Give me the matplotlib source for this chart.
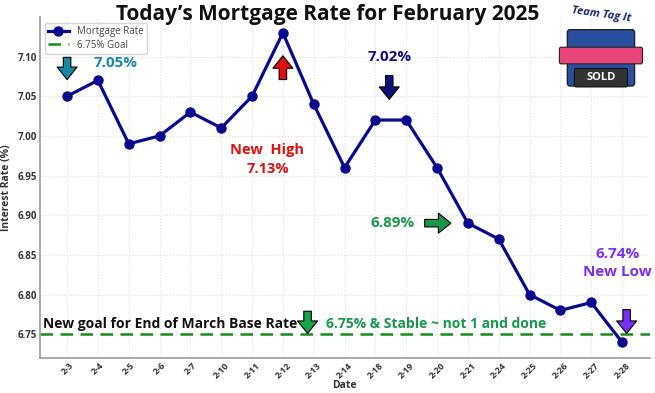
import matplotlib.pyplot as plt
from matplotlib.patches import FancyBboxPatch

# Data
dates = ["2-3", "2-4", "2-5", "2-6", "2-7", "2-10", "2-11", "2-12", "2-13", "2-14",
         "2-18", "2-19", "2-20", "2-21", "2-24", "2-25", "2-26", "2-27", "2-28"]
rates = [7.05, 7.07, 6.99, 7.00, 7.03, 7.01, 7.05, 7.13, 7.04, 6.96,
         7.02, 7.02, 6.96, 6.89, 6.87, 6.80, 6.78, 6.79, 6.74]
goal = 6.75
y_ticks = [6.75, 6.80, 6.85, 6.90, 6.95, 7.00, 7.05, 7.10]

plt.rcParams['font.family'] = ['Open Sans', 'DejaVu Sans']

fig = plt.figure(figsize=(6.55, 3.93), dpi=100)
ax = fig.add_axes([0.061, 0.089, 0.931, 0.868])

x = list(range(len(dates)))
ax.plot(x, rates, color='#0a0a8c', lw=2.3, marker='o', ms=6.5, label='Mortgage Rate', zorder=3)
ax.axhline(goal, color='#1a8a1a', ls='--', lw=1.8, dashes=(5, 3), label='6.75% Goal', zorder=2)

ax.set_xlim(-0.88, 18.9)
ax.set_ylim(6.72, 7.15)
ax.set_xticks(x)
ax.set_xticklabels(dates, rotation=45, fontsize=6.5, fontweight='bold', color='#333333')
ax.set_yticks(y_ticks)
ax.set_yticklabels([f"{v:.2f}" for v in y_ticks], fontsize=7, fontweight='bold', color='#333333')
ax.tick_params(length=0, pad=2)
ax.set_xlabel("Date", fontsize=7.5, fontweight='bold', color='#333333', labelpad=0)
ax.set_ylabel("Interest Rate (%)", fontsize=7.5, fontweight='bold', color='#333333', labelpad=4)
ax.grid(True, color='#dddddd', ls=':', lw=0.8)
for s in ['top', 'right']:
    ax.spines[s].set_visible(False)
for s in ['left', 'bottom']:
    ax.spines[s].set_color('#999999')
    ax.spines[s].set_linewidth(1.2)

leg = ax.legend(loc='upper left', fontsize=7, frameon=True, handlelength=2.2,
                borderpad=0.3, labelspacing=0.25, bbox_to_anchor=(0.0, 0.995))
leg.get_frame().set_edgecolor('#cccccc')
leg.set_zorder(4)
for t in leg.get_texts():
    t.set_color('#444444')

fig.text(0.5, 0.962, "Today\u2019s Mortgage Rate for February 2025", ha='center', va='center',
         fontsize=15, fontweight='bold', color='#111111')


def arrow(x0, y0, x1, y1, color):
    ax.annotate('', xy=(x1, y1), xytext=(x0, y0), zorder=6,
                arrowprops=dict(arrowstyle='simple,head_width=1.2,head_length=0.75,tail_width=0.45',
                                fc=color, ec='black', lw=0.8, mutation_scale=12,
                                shrinkA=0, shrinkB=0))


teal = '#1a87a3'
red = '#e01010'
navy = '#10107a'
green = '#17964c'
purple = '#7a2ef0'

ax.text(1.56, 7.092, "7.05%", color=teal, fontsize=11, fontweight='bold', ha='center', va='center', zorder=6)
arrow(0.0, 7.099, 0.0, 7.071, teal)

arrow(7.0, 7.071, 7.0, 7.101, red)
ax.text(6.5, 6.97, "New  High\n7.13%", color=red, fontsize=10.5, fontweight='bold',
        ha='center', va='center', linespacing=1.5)

ax.text(10.45, 7.099, "7.02%", color=navy, fontsize=11, fontweight='bold', ha='center', va='center')
arrow(10.45, 7.076, 10.45, 7.046, navy)

ax.text(10.55, 6.89, "6.89%", color=green, fontsize=11, fontweight='bold', ha='center', va='center')
arrow(11.6, 6.89, 12.45, 6.89, green)

ax.text(17.85, 6.84, "6.74%\nNew Low", color=purple, fontsize=11, fontweight='bold',
        ha='center', va='center', linespacing=1.4)
arrow(18.15, 6.781, 18.15, 6.751, purple)

ax.text(-0.78, 6.763, "New goal for End of March Base Rate", color='#111111', fontsize=10,
        fontweight='bold', ha='left', va='center')
arrow(7.8, 6.779, 7.8, 6.751, '#17a34a')
ax.text(8.4, 6.763, "6.75% & Stable ~ not 1 and done", color=green, fontsize=10,
        fontweight='bold', ha='left', va='center')

# Logo approximation
lax = fig.add_axes([0.85, 0.76, 0.135, 0.235])
lax.set_xlim(0, 1)
lax.set_ylim(0, 1)
lax.axis('off')
lax.add_patch(FancyBboxPatch((0.15, 0.12), 0.7, 0.55, boxstyle='round,pad=0.03',
                             fc='#2b4fa0', ec='#222222', lw=1))
lax.add_patch(FancyBboxPatch((0.05, 0.35), 0.9, 0.14, boxstyle='round,pad=0.02',
                             fc='#e8457a', ec='#222222', lw=0.8))
lax.add_patch(FancyBboxPatch((0.22, 0.1), 0.56, 0.16, boxstyle='round,pad=0.02',
                             fc='#333333', ec='#111111', lw=0.8))
lax.text(0.5, 0.18, "SOLD", color='white', fontsize=8, fontweight='bold', ha='center', va='center')
lax.text(0.5, 0.86, "Team Tag It", color='#1a2a6a', fontsize=8, fontstyle='italic',
         fontweight='bold', ha='center', va='center', rotation=-8)

fig.savefig("out.png", dpi=100)
